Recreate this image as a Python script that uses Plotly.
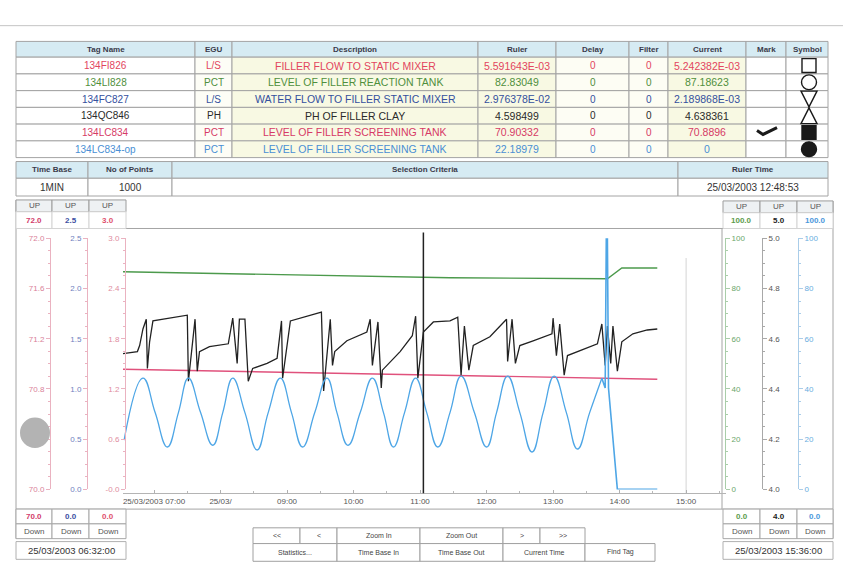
import plotly.graph_objects as go

# ---------------------------------------------------------------- data
tag_names = ["134FI826", "134LI828", "134FC827", "134QC846", "134LC834", "134LC834-op"]
egu_units = ["L/S", "PCT", "L/S", "PH", "PCT", "PCT"]
descriptions = [
    "FILLER FLOW TO STATIC MIXER",
    "LEVEL OF FILLER REACTION TANK",
    "WATER FLOW TO FILLER STATIC MIXER",
    "PH OF FILLER CLAY",
    "LEVEL OF FILLER SCREENING TANK",
    "LEVEL OF FILLER SCREENING TANK",
]
ruler_values = ["5.591643E-03", "82.83049", "2.976378E-02", "4.598499", "70.90332", "22.18979"]
delay_values = ["0", "0", "0", "0", "0", "0"]
filter_values = ["0", "0", "0", "0", "0", "0"]
current_values = ["5.242382E-03", "87.18623", "2.189868E-03", "4.638361", "70.8896", "0"]
marked = [False, False, False, False, True, False]
symbols = ["square-open", "circle-open", "triangle-down-open", "triangle-up-open", "square", "circle"]

time_base = "1MIN"
n_points = "1000"
ruler_time = "25/03/2003 12:48:53"
start_stamp = "25/03/2003 06:32:00"
end_stamp = "25/03/2003 15:36:00"

left_up = ["72.0", "2.5", "3.0"]
left_down = ["70.0", "0.0", "0.0"]
right_up = ["100.0", "5.0", "100.0"]
right_down = ["0.0", "4.0", "0.0"]

DAY = "2003-03-25 "
x_start, x_end = "06:32", "15:36"
tick_hours = ["07:00", "08:00", "09:00", "10:00", "11:00", "12:00", "13:00", "14:00", "15:00"]
tick_labels = ["25/03/2003 07:00", "25/03/", "09:00", "10:00", "11:00", "12:00", "13:00", "14:00", "15:00"]
cursor_time = "11:03"

# 134QC846 - pH of filler clay
ph_time = ["06:32", "06:45", "06:47", "06:50", "06:53", "06:54", "06:56", "06:59", "07:30", "07:31",
           "07:37", "07:39", "07:41", "07:50", "08:07", "08:11", "08:15", "08:17", "08:22", "08:25",
           "08:29", "08:42", "08:51", "08:55", "08:56", "09:03", "09:31", "09:33", "09:39", "09:41",
           "09:43", "09:54", "10:12", "10:15", "10:17", "10:22", "10:25", "10:26", "10:42", "10:53",
           "10:56", "10:58", "11:03", "11:12", "11:27", "11:34", "11:37", "11:40", "11:44", "11:48",
           "12:03", "12:18", "12:19", "12:23", "12:26", "12:30", "12:42", "12:59", "13:00", "13:03",
           "13:06", "13:10", "13:13", "13:24", "13:40", "13:44", "13:47", "13:49", "13:52", "13:54",
           "13:58", "14:02", "14:12", "14:25", "14:34"]
ph_value = [4.541, 4.549, 4.573, 4.639, 4.678, 4.482, 4.588, 4.671, 4.694, 4.431,
            4.678, 4.471, 4.549, 4.569, 4.580, 4.682, 4.502, 4.678, 4.678, 4.431,
            4.482, 4.502, 4.522, 4.671, 4.443, 4.671, 4.706, 4.392, 4.678, 4.494,
            4.549, 4.592, 4.627, 4.678, 4.494, 4.667, 4.404, 4.475, 4.549, 4.612,
            4.690, 4.443, 4.627, 4.667, 4.671, 4.686, 4.455, 4.651, 4.475, 4.573,
            4.608, 4.678, 4.510, 4.678, 4.502, 4.573, 4.592, 4.620, 4.682, 4.533,
            4.659, 4.455, 4.533, 4.553, 4.580, 4.659, 4.494, 4.651, 4.502, 4.651,
            4.471, 4.588, 4.620, 4.635, 4.639]

# 134LC834 - screening tank level
lc834_time = ["06:32", "11:18", "14:34"]
lc834_value = [70.957, 70.910, 70.878]

# 134LI828 - reaction tank level
li828_time = ["06:32", "11:27", "13:49", "14:02", "14:34"]
li828_value = [86.7, 84.3, 83.9, 88.2, 88.2]

# 134LC834-op - controller output
op_time = ["06:33", "06:50", "07:01", "07:12", "07:22", "07:31", "07:42", "07:53", "08:02", "08:11",
           "08:22", "08:33", "08:43", "08:54", "09:04", "09:14", "09:25", "09:36", "09:45", "09:55",
           "10:06", "10:17", "10:27", "10:36", "10:46", "10:56", "11:06", "11:16", "11:27", "11:37",
           "11:49", "12:00", "12:09", "12:19", "12:30", "12:41", "12:51", "13:01", "13:12", "13:22",
           "13:33", "13:44", "13:47", "13:48", "13:49", "13:50", "13:58", "14:34"]
op_value = [19.6, 44.3, 30.6, 16.9, 30.6, 44.3, 30.6, 17.6, 30.6, 44.3,
            30.6, 15.7, 30.6, 44.3, 30.6, 16.9, 30.6, 44.3, 30.6, 17.6,
            30.6, 44.3, 30.6, 16.9, 30.6, 44.3, 30.6, 16.9, 30.6, 45.1,
            30.6, 16.9, 30.6, 45.1, 30.6, 14.9, 30.6, 45.1, 30.6, 16.1,
            30.6, 44.3, 40.4, 100.0, 100.0, 40.4, 0.0, 0.0]

# ---------------------------------------------------------------- helpers
W, H = 843, 585
FONT = "Liberation Sans, Arial, sans-serif"
GRID = "#a4a4a4"
HEAD_FILL = "#d6ebf3"

shapes, annotations = [], []


def px(x):
    return x / W


def py(y):
    return 1 - y / H


def rect(x0, y0, x1, y1, fill=None, line=GRID, width=1, layer="below"):
    shapes.append(dict(type="rect", xref="paper", yref="paper",
                       x0=px(x0), x1=px(x1), y0=py(y1), y1=py(y0),
                       fillcolor=fill or "rgba(0,0,0,0)",
                       line=dict(color=line, width=width), layer=layer))


def seg(x0, y0, x1, y1, color=GRID, width=1):
    shapes.append(dict(type="line", xref="paper", yref="paper",
                       x0=px(x0), x1=px(x1), y0=py(y0), y1=py(y1),
                       line=dict(color=color, width=width), layer="below"))


def label(x, y, s, size=10, color="#333", bold=False, xanchor="center"):
    annotations.append(dict(xref="paper", yref="paper", x=px(x), y=py(y),
                            text=f"<b>{s}</b>" if bold else s, showarrow=False,
                            xanchor=xanchor, yanchor="middle",
                            font=dict(size=size, color=color, family=FONT)))


def path(points, color="#111", width=1.5, fill=None, closed=False):
    d = "M " + " L ".join(f"{px(a):.5f},{py(b):.5f}" for a, b in points)
    if closed:
        d += " Z"
    shapes.append(dict(type="path", xref="paper", yref="paper", path=d,
                       fillcolor=fill or "rgba(0,0,0,0)",
                       line=dict(color=color, width=width), layer="above"))


# ---------------------------------------------------------------- tag table
row_colors = ["#e2455e", "#4f8f3c", "#34509e", "#2a2a2a", "#d63a66", "#4a8fd4"]
col_edges = [16, 195, 232, 478, 556, 629, 668, 746, 786, 828]
col_heads = ["Tag Name", "EGU", "Description", "Ruler", "Delay", "Filter", "Current", "Mark", "Symbol"]
col_fill = ["#ffffff", "#fdfdf6", "#f8f9e3", "#f8f9e3", "#fdfdf4", "#fdfdf4", "#f8f9e3", "#ffffff", "#ffffff"]
col_size = [10, 10, 10.5, 10.5, 10, 10, 10.5]
row_edges = [54, 71, 88, 105, 122, 139, 156]

for j, head in enumerate(col_heads):
    x0, x1 = col_edges[j], col_edges[j + 1]
    rect(x0, 38, x1, 54, fill=HEAD_FILL)
    label((x0 + x1) / 2, 46, head, size=8, color="#3a3a4a", bold=True)

columns = [tag_names, egu_units, descriptions, ruler_values, delay_values, filter_values, current_values]
for i in range(len(tag_names)):
    y0, y1 = row_edges[i], row_edges[i + 1]
    yc = (y0 + y1) / 2
    for j in range(len(col_heads)):
        rect(col_edges[j], y0, col_edges[j + 1], y1, fill=col_fill[j])
    for j, col in enumerate(columns):
        label((col_edges[j] + col_edges[j + 1]) / 2, yc, col[i], size=col_size[j], color=row_colors[i])
    if marked[i]:
        path([(757, yc - 2), (763, yc + 2), (777, yc - 5)], color="#1a1a1a", width=3)

# symbol column
sx = 809
INK = "#1a1a1a"
for i, sym in enumerate(symbols):
    yc = (row_edges[i] + row_edges[i + 1]) / 2
    r = 7
    if sym.startswith("square"):
        path([(sx - r, yc - r), (sx + r, yc - r), (sx + r, yc + r), (sx - r, yc + r)],
             fill=INK if sym == "square" else None, color=INK, width=1.4, closed=True)
    elif sym.startswith("circle"):
        shapes.append(dict(type="circle", xref="paper", yref="paper",
                           x0=px(sx - r - 0.5), x1=px(sx + r + 0.5), y0=py(yc + r + 0.5), y1=py(yc - r - 0.5),
                           fillcolor=INK if sym == "circle" else "rgba(0,0,0,0)",
                           line=dict(color=INK, width=1.4), layer="above"))
    elif sym == "triangle-down-open":
        path([(sx - 8, yc - 8), (sx + 8, yc - 8), (sx, yc + 8)], color=INK, width=1.4, closed=True)
    else:
        path([(sx, yc - 8), (sx + 8, yc + 8), (sx - 8, yc + 8)], color=INK, width=1.4, closed=True)

# time base / selection row
tb_edges = [16, 88, 172, 678, 828]
tb_heads = ["Time Base", "No of Points", "Selection Criteria", "Ruler Time"]
tb_vals = [time_base, n_points, "", ruler_time]
for j in range(4):
    x0, x1 = tb_edges[j], tb_edges[j + 1]
    rect(x0, 160, x1, 177, fill=HEAD_FILL)
    label((x0 + x1) / 2, 168.5, tb_heads[j], size=8, color="#3a3a4a", bold=True)
    rect(x0, 177, x1, 195, fill="#ffffff")
    label((x0 + x1) / 2, 186, tb_vals[j], size=10, color="#333")

# ---------------------------------------------------------------- trend frame
seg(0, 22, 843, 22, color="#c4c4c4")
seg(16, 228, 833, 228)
seg(16, 513, 833, 513)
seg(16, 199, 16, 543)
seg(833, 200, 833, 543)
seg(722, 228, 722, 513)

left_cols = [16, 52, 89, 126]
right_cols = [723, 760, 797, 833]
left_colors = ["#d23c6a", "#3c4ea2", "#e0506c"]
right_colors = ["#5c9c4c", "#222222", "#4a98dc"]

for cols, ups, downs, colors, top in [(left_cols, left_up, left_down, left_colors, 199),
                                      (right_cols, right_up, right_down, right_colors, 200)]:
    for j in range(3):
        x0, x1 = cols[j], cols[j + 1]
        xc = (x0 + x1) / 2
        rect(x0, top, x1, top + 12, fill="#eef1f3", line="#9c9c9c")
        label(xc, top + 6, "UP", size=8, color="#555")
        rect(x0, top + 12, x1, 228, fill="#ffffff", line="#d4d4d4")
        label(xc, (top + 12 + 228) / 2, ups[j], size=8, color=colors[j], bold=True)
        rect(x0, 513, x1, 528, fill="#ffffff", line="#a8a8a8")
        label(xc, 521, downs[j], size=8, color=colors[j], bold=True)
        rect(x0, 528, x1, 543, fill="#ffffff", line="#a8a8a8")
        label(xc, 535.5, "Down", size=8, color="#555")

rect(16, 546, 126, 564, fill="#ffffff", line="#b0b0b0")
label(71, 555, start_stamp, size=9.5, color="#333")
rect(723, 546, 833, 564, fill="#ffffff", line="#b0b0b0")
label(778, 555, end_stamp, size=9.5, color="#333")

# navigation buttons
buttons = [(253, 300, 532, 548, "<<"), (300, 337, 532, 548, "<"), (337, 420, 532, 548, "Zoom In"),
           (420, 503, 532, 548, "Zoom Out"), (503, 540, 532, 548, ">"), (540, 585, 532, 548, ">>"),
           (253, 337, 548, 566, "Statistics..."), (337, 420, 548, 566, "Time Base In"),
           (420, 503, 548, 566, "Time Base Out"), (503, 585, 548, 566, "Current Time"),
           (585, 655, 548, 566, "Find Tag")]
for x0, x1, y0, y1, t in buttons:
    rect(x0, y0, x1, y1, fill="#ffffff", line="#a0a0a0")
    label((x0 + x1) / 2, (y0 + y1) / 2, t.replace("<", "&lt;").replace(">", "&gt;"), size=7, color="#444")

# ---------------------------------------------------------------- axes
Y_DOM = [py(493), py(238)]


def yaxis(rng, vals, texts, xpos, side, line_c, text_c, minor_dt, overlay=True):
    ax = dict(range=rng, domain=Y_DOM, anchor="free", position=xpos, side=side,
              tickmode="array", tickvals=vals, ticktext=texts,
              ticks="outside", ticklen=4, tickwidth=1, tickcolor=line_c,
              showline=True, linecolor=line_c, linewidth=1,
              showgrid=False, zeroline=False, fixedrange=True,
              tickfont=dict(size=8, color=text_c, family=FONT),
              minor=dict(ticks="outside", ticklen=2, tickcolor=line_c,
                         dtick=minor_dt, tick0=rng[0], showgrid=False))
    if overlay:
        ax["overlaying"] = "y"
    return ax


def steps(lo, step, n):
    return [round(lo + step * k, 3) for k in range(n)]


pct_text = ["0", "20", "40", "60", "80", "100"]
layout_axes = dict(
    yaxis=yaxis([70, 72], steps(70, 0.4, 6), ["70.0", "70.4", "70.8", "71.2", "71.6", "72.0"],
                px(50), "left", "#eab2c0", "#d98299", 0.1, overlay=False),
    yaxis2=yaxis([0, 2.5], steps(0, 0.5, 6), ["0.0", "0.5", "1.0", "1.5", "2.0", "2.5"],
                 px(87), "left", "#eab2c0", "#6f7fc0", 0.125),
    yaxis3=yaxis([0, 3.0], steps(0, 0.6, 6), ["-0.0", "0.6", "1.2", "1.8", "2.4", "3.0"],
                 px(125), "left", "#eab2c0", "#e08ca0", 0.15),
    yaxis4=yaxis([0, 100], steps(0, 20, 6), pct_text, px(725), "right", "#a9cda9", "#6aa66a", 5),
    yaxis5=yaxis([4, 5], steps(4, 0.2, 6), ["4.0", "4.2", "4.4", "4.6", "4.8", "5.0"],
                 px(762), "right", "#a8a8a8", "#555555", 0.05),
    yaxis6=yaxis([0, 100], steps(0, 20, 6), pct_text, px(798), "right", "#aacde9", "#6aaee0", 5),
)

xaxis = dict(type="date", range=[DAY + x_start, DAY + x_end], domain=[px(123), px(726)],
             anchor="free", position=py(497), tickmode="array",
             tickvals=[DAY + h for h in tick_hours], ticktext=tick_labels,
             ticks="inside", ticklen=3, tickcolor="#b0b0b0",
             showline=True, linecolor="#b4b4b4", linewidth=1,
             showgrid=False, zeroline=False, fixedrange=True,
             tickfont=dict(size=8, color="#555", family=FONT),
             minor=dict(ticks="inside", ticklen=2, tickcolor="#b8b8b8",
                        dtick=30 * 60 * 1000, tick0=DAY + "07:00", showgrid=False))

# ---------------------------------------------------------------- traces
fig = go.Figure()


def stamps(times):
    return [DAY + t for t in times]


fig.add_trace(go.Scatter(x=stamps(lc834_time), y=lc834_value, yaxis="y", mode="lines",
                         line=dict(color="#e0517c", width=1.4), name=tag_names[4]))
fig.add_trace(go.Scatter(x=[], y=[], yaxis="y2", mode="lines", name=tag_names[2]))
fig.add_trace(go.Scatter(x=[], y=[], yaxis="y3", mode="lines", name=tag_names[0]))
fig.add_trace(go.Scatter(x=stamps(li828_time), y=li828_value, yaxis="y4", mode="lines",
                         line=dict(color="#4c9a4c", width=1.4), name=tag_names[1]))

# controller output: smooth oscillation, then the spike and drop to zero
split = op_time.index("13:44") + 1
fig.add_trace(go.Scatter(x=stamps(op_time[:split]), y=op_value[:split], yaxis="y6", mode="lines",
                         line=dict(color="#4ea6e6", width=1.3, shape="spline", smoothing=1.3),
                         name=tag_names[5]))
fig.add_trace(go.Scatter(x=stamps(op_time[split - 1:]), y=op_value[split - 1:], yaxis="y6", mode="lines",
                         line=dict(color="#4ea6e6", width=1.6), name=tag_names[5]))

fig.add_trace(go.Scatter(x=stamps(ph_time), y=ph_value, yaxis="y5", mode="lines",
                         line=dict(color="#222222", width=1.3), name=tag_names[3]))

# ruler cursor and current-time marker
shapes.append(dict(type="line", xref="x", yref="paper", x0=DAY + cursor_time, x1=DAY + cursor_time,
                   y0=py(497), y1=py(232), line=dict(color="#222", width=1.5), layer="above"))
shapes.append(dict(type="line", xref="x", yref="paper", x0=DAY + "15:00", x1=DAY + "15:00",
                   y0=py(497), y1=py(258), line=dict(color="#d4d4d4", width=1), layer="below"))

# grey blot over the left scale
shapes.append(dict(type="circle", xref="paper", yref="paper", x0=px(20), x1=px(50),
                   y0=py(451), y1=py(420), fillcolor="#b3b3b3", line=dict(width=0), layer="above"))

fig.update_layout(width=W, height=H, margin=dict(l=0, r=0, t=0, b=0),
                  paper_bgcolor="white", plot_bgcolor="rgba(0,0,0,0)",
                  showlegend=False, font=dict(family=FONT),
                  xaxis=xaxis, shapes=shapes, annotations=annotations, **layout_axes)

fig.write_html("out.html", config={"displayModeBar": False})
